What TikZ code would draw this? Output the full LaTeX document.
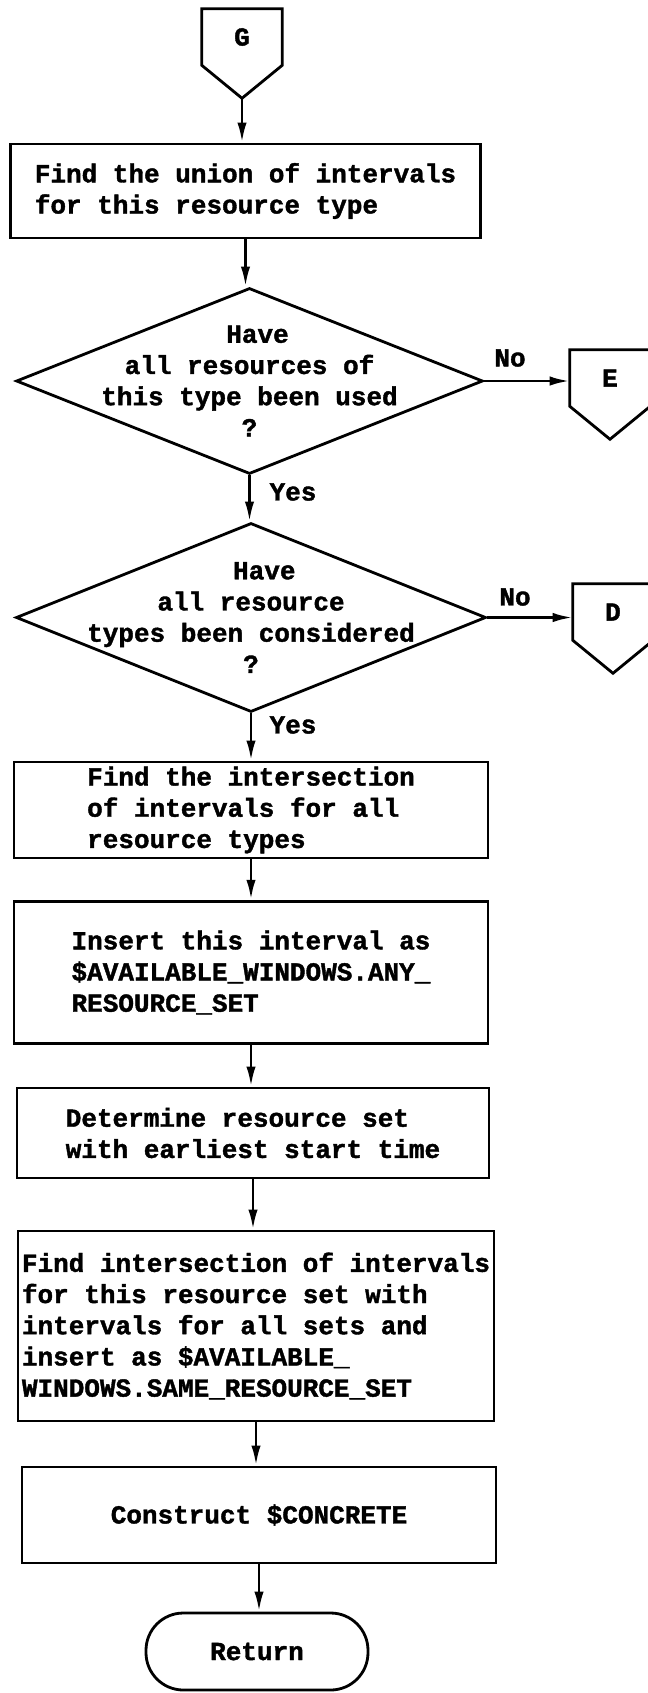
\documentclass[tikz,border=0pt]{standalone}
\usepackage{fontspec}
\setmonofont{Liberation Mono}[BoldFeatures={FakeBold=1.5}]
\usetikzlibrary{arrows.meta,positioning,shapes.geometric,calc}

\newcommand{\flowfont}{\ttfamily\bfseries\fontsize{19.5pt}{23.4pt}\selectfont}

\tikzset{
  flowline/.style={line width=2.1pt},
  flowarrow/.style={flowline, -{Latex[length=15pt,width=7pt]}},
  procbox/.style={draw, flowline, align=left, inner xsep=2pt, font=\flowfont},
  decision/.style={draw, flowline, diamond, inner sep=0pt},
  dtext/.style={align=center, font=\flowfont},
  offpage/.style={inner sep=0pt, minimum width=60pt, minimum height=42pt, font=\flowfont},
  terminal/.style={draw, flowline, rounded corners=28pt, font=\flowfont},
  answer/.style={font=\flowfont}
}

\begin{document}
\begin{tikzpicture}[x=0.75pt, y=-0.75pt]
  \useasboundingbox (0,0) rectangle (647,1693);

  % off-page connectors
  \node[offpage] (G) at (242,37) {G};
  \node[offpage] (E) at (610,378) {E};
  \node[offpage] (D) at (613,612) {D};
  \coordinate (Gtip) at ($(G.south)+(0,33)$);
  \coordinate (Etip) at ($(E.south)+(0,33)$);
  \coordinate (Dtip) at ($(D.south)+(0,33)$);
  \draw[flowline] (G.north west) -- (G.south west) -- (Gtip) -- (G.south east) -- (G.north east) -- cycle;
  \draw[flowline] (E.north west) -- (E.south west) -- (Etip) -- (E.south east) -- (E.north east) -- cycle;
  \draw[flowline] (D.north west) -- (D.south west) -- (Dtip) -- (D.south east) -- (D.north east) -- cycle;

  \node[procbox, minimum width=353pt, minimum height=70.5pt] (union) at (245.5,191) {Find the union of intervals\\for this resource type};

  \node[decision, minimum width=350pt, minimum height=139.5pt] (used) at (249.5,381) {};
  \node[dtext] (usedtxt) at (used) {\hspace*{12pt}Have\\all resources of\\this type been used\\?};

  \node[decision, minimum width=352.5pt, minimum height=141.75pt] (types) at (251,617.5) {};
  \node[dtext] (typestxt) at (types) {\hspace*{20pt}Have\\all resource\\types been considered\\?};

  \node[answer] (no1) at (510,358) {No};
  \node[answer] (yes1) at (293,492) {Yes};
  \node[answer] (no2) at (515,597) {No};
  \node[answer] (yes2) at (293,725) {Yes};

  \node[procbox, minimum width=355.5pt, minimum height=72pt] (inter) at (251,810) {Find the intersection\\of intervals for all\\resource types};
  \node[procbox, minimum width=355.5pt, minimum height=107pt] (insert) at (251,972.5) {Insert this interval as\\\$AVAILABLE\_WINDOWS.ANY\_\\RESOURCE\_SET};
  \node[procbox, minimum width=354pt, minimum height=67.5pt] (earliest) at (253,1133) {Determine resource set\\with earliest start time};
  \node[procbox, minimum width=357pt, minimum height=142.5pt] (sameset) at (256,1326) {Find intersection of intervals\\for this resource set with\\intervals for all sets and\\insert as \$AVAILABLE\_\\WINDOWS.SAME\_RESOURCE\_SET};
  \node[procbox, minimum width=355.5pt, minimum height=72pt] (concrete) at (259,1515) {Construct \$CONCRETE};
  \node[terminal, minimum width=166.5pt, minimum height=57.75pt] (ret) at (257,1651.5) {Return};

  % connectors
  \draw[flowarrow] (Gtip) -- (Gtip |- union.north);
  \draw[flowarrow] (union.south) -- (union.south |- used.north);
  \draw[flowarrow] (used.south) -- (used.south |- types.north);
  \draw[flowarrow] (used.east) -- (used.east -| E.west);
  \draw[flowarrow] (types.east) -- (types.east -| D.west);
  \draw[flowarrow] (types.south) -- (types.south |- inter.north);
  \draw[flowarrow] (inter.south) -- (inter.south |- insert.north);
  \draw[flowarrow] (insert.south) -- (insert.south |- earliest.north);
  \draw[flowarrow] (earliest.south) -- (earliest.south |- sameset.north);
  \draw[flowarrow] (sameset.south) -- (sameset.south |- concrete.north);
  \draw[flowarrow] (concrete.south) -- (concrete.south |- ret.north);
\end{tikzpicture}
\end{document}
